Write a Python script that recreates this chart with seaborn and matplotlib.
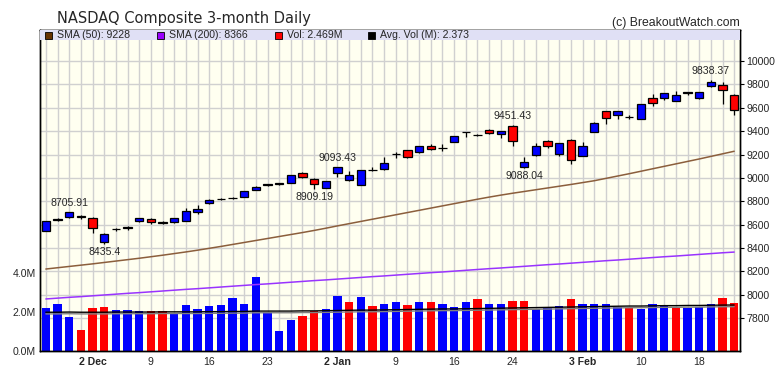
import numpy as np
import pandas as pd
import matplotlib
matplotlib.use('Agg')
import matplotlib.pyplot as plt
import matplotlib.patheffects as pe
import matplotlib.transforms as mtrans
from matplotlib.patches import Rectangle
import seaborn as sns

#---------------------------------------------------------
title = 'NASDAQ Composite 3-month Daily'
credit = '(c) BreakoutWatch.com'

dates = ['2019-11-25', '2019-11-26', '2019-11-27', '2019-11-29',
	'2019-12-02', '2019-12-03', '2019-12-04', '2019-12-05', '2019-12-06',
	'2019-12-09', '2019-12-10', '2019-12-11', '2019-12-12', '2019-12-13',
	'2019-12-16', '2019-12-17', '2019-12-18', '2019-12-19', '2019-12-20',
	'2019-12-23', '2019-12-24', '2019-12-26', '2019-12-27',
	'2019-12-30', '2019-12-31', '2020-01-02', '2020-01-03',
	'2020-01-06', '2020-01-07', '2020-01-08', '2020-01-09', '2020-01-10',
	'2020-01-13', '2020-01-14', '2020-01-15', '2020-01-16', '2020-01-17',
	'2020-01-21', '2020-01-22', '2020-01-23', '2020-01-24',
	'2020-01-27', '2020-01-28', '2020-01-29', '2020-01-30', '2020-01-31',
	'2020-02-03', '2020-02-04', '2020-02-05', '2020-02-06', '2020-02-07',
	'2020-02-10', '2020-02-11', '2020-02-12', '2020-02-13', '2020-02-14',
	'2020-02-18', '2020-02-19', '2020-02-20', '2020-02-21']

op = [8550, 8641, 8662, 8675, 8660, 8454, 8562, 8580, 8630, 8650,
	8620, 8625, 8635, 8705, 8782, 8821, 8826, 8838, 8900, 8942,
	8950, 8960, 9045, 8995, 8918, 9039, 8980, 8943, 9071, 9075,
	9205, 9235, 9220, 9270, 9256, 9310, 9390, 9368, 9410, 9378,
	9445, 9097, 9197, 9318, 9208, 9327, 9190, 9395, 9570, 9540,
	9525, 9500, 9685, 9685, 9660, 9730, 9680, 9790, 9795, 9712]
hi = [8634, 8655, 8705.91, 8681, 8663, 8527, 8576, 8585, 8660, 8658,
	8630, 8660, 8745, 8765, 8822, 8830, 8833, 8889, 8932, 8947,
	8956, 9023, 9052, 8996, 8975, 9093.43, 9063, 9072, 9092, 9176,
	9219, 9240, 9277, 9290, 9290, 9358, 9392, 9377, 9420, 9405,
	9451.43, 9180, 9295, 9325, 9300, 9330, 9304, 9475, 9572, 9575,
	9540, 9630, 9715, 9728, 9743, 9738, 9737, 9838.37, 9820, 9715]
lo = [8548, 8631, 8657, 8650, 8533, 8435.4, 8545, 8555, 8622, 8610,
	8604, 8618, 8630, 8695, 8776, 8810, 8818, 8836, 8895, 8934,
	8940, 8960, 8996, 8909.19, 8915, 9012, 8975, 8943, 9057, 9065,
	9170, 9167, 9210, 9240, 9230, 9305, 9350, 9360, 9378, 9338,
	9275, 9088.04, 9190, 9260, 9185, 9120, 9185, 9390, 9460, 9505,
	9505, 9500, 9615, 9670, 9655, 9705, 9678, 9780, 9630, 9536]
cl = [8632, 8648, 8705, 8665, 8568, 8521, 8567, 8571, 8657, 8622,
	8616, 8654, 8717, 8735, 8814, 8823, 8828, 8887, 8925, 8946,
	8953, 9022, 9007, 8946, 8973, 9092, 9021, 9071, 9069, 9129,
	9203, 9179, 9274, 9251, 9259, 9357, 9389, 9371, 9384, 9402,
	9315, 9139, 9270, 9275, 9299, 9151, 9273, 9468, 9509, 9572,
	9521, 9628, 9639, 9726, 9712, 9731, 9733, 9817, 9751, 9577]
vol = [2.24, 2.43, 1.76, 1.10, 2.24, 2.29, 2.14, 2.14, 2.08, 2.08,
	2.08, 1.93, 2.38, 2.19, 2.33, 2.38, 2.74, 2.43, 3.82, 2.03,
	1.03, 1.62, 1.81, 2.05, 2.19, 2.84, 2.55, 2.79, 2.33, 2.43,
	2.53, 2.38, 2.53, 2.53, 2.43, 2.27, 2.53, 2.69, 2.43, 2.43,
	2.58, 2.58, 2.19, 2.24, 2.33, 2.69, 2.43, 2.43, 2.43, 2.27,
	2.22, 2.17, 2.43, 2.33, 2.22, 2.22, 2.27, 2.43, 2.74, 2.469]
avg_vol = [2.00, 2.00, 2.01, 2.00, 2.00, 2.00, 2.01, 2.01, 2.01, 2.01,
	2.02, 2.02, 2.02, 2.02, 2.03, 2.03, 2.04, 2.04, 2.06, 2.06,
	2.06, 2.06, 2.07, 2.07, 2.08, 2.09, 2.10, 2.11, 2.11, 2.12,
	2.13, 2.14, 2.15, 2.16, 2.17, 2.17, 2.18, 2.19, 2.20, 2.21,
	2.22, 2.23, 2.24, 2.25, 2.26, 2.27, 2.28, 2.29, 2.30, 2.31,
	2.32, 2.32, 2.33, 2.34, 2.34, 2.35, 2.35, 2.36, 2.37, 2.373]
sma50 = [8221, 8232, 8243, 8254, 8265, 8277, 8289, 8301, 8313, 8326,
	8339, 8353, 8367, 8382, 8398, 8414, 8431, 8448, 8465, 8482,
	8499, 8516, 8533, 8551, 8570, 8590, 8609, 8628, 8647, 8666,
	8685, 8704, 8723, 8742, 8761, 8780, 8799, 8818, 8836, 8853,
	8869, 8884, 8899, 8914, 8929, 8944, 8960, 8976, 8996, 9016,
	9036, 9057, 9078, 9099, 9120, 9141, 9162, 9184, 9206, 9228]
sma200 = [7965, 7972, 7979, 7985, 7992, 7999, 8006, 8013, 8019, 8026,
	8033, 8040, 8047, 8053, 8060, 8067, 8074, 8081, 8088, 8094,
	8101, 8108, 8115, 8122, 8128, 8135, 8142, 8149, 8156, 8162,
	8169, 8176, 8183, 8190, 8196, 8203, 8210, 8217, 8224, 8230,
	8237, 8244, 8251, 8258, 8264, 8271, 8278, 8285, 8292, 8298,
	8305, 8312, 8319, 8326, 8332, 8339, 8346, 8353, 8360, 8366]

tick_dates = ['2019-12-02', '2019-12-09', '2019-12-16', '2019-12-23', '2020-01-02', '2020-01-09',
	'2020-01-16', '2020-01-24', '2020-02-03', '2020-02-10', '2020-02-18']
tick_lbls = ['2 Dec', '9', '16', '23', '2 Jan', '9', '16', '24', '3 Feb', '10', '18']
hi_marks = ['2019-11-27', '2020-01-02', '2020-01-24', '2020-02-19']
lo_marks = ['2019-12-03', '2019-12-30', '2020-01-27']
price_ticks = [7800, 8000, 8200, 8400, 8600, 8800, 9000, 9200, 9400, 9600, 9800, 10000]
vol_ticks = [0, 2, 4]

c_up, c_dn = '#0000ff', '#ff0000'
c_sma50, c_sma200 = '#8b5e3c', '#9933ff'
grid_c = '#d0d0d0'

#--------------------------------------------------------
df = pd.DataFrame(dict(date=dates, open=op, high=hi, low=lo, close=cl, vol=vol,
	avg_vol=avg_vol, sma50=sma50, sma200=sma200))
df['i'] = np.arange(len(df))
prev = df['close'].shift(1).fillna(df['open'])
df['dir'] = np.where(df['close'] >= prev, 'up', 'down')
df['body_lo'] = df[['open', 'close']].min(axis=1)
df['body_h'] = (df['close'] - df['open']).abs()
df['ccol'] = np.where(df['close'] >= df['open'], c_up, c_dn)
pos = {d: k for k, d in enumerate(dates)}

sns.set_style('white')
plt.rcParams['font.family'] = ['Liberation Sans', 'DejaVu Sans']

fig = plt.figure(figsize=(7.8, 3.76), dpi=100)
ax_v = fig.add_axes([40/780, 25/376, 700/780, 321/376])
ax_p = ax_v.twinx()
ax_v.set_facecolor('#fffff0')
ax_p.patch.set_visible(False)

#volume
sns.barplot(data=df, x='i', y='vol', hue='dir', palette={'up': c_up, 'down': c_dn},
	native_scale=True, dodge=False, width=0.7, saturation=1, legend=False,
	linewidth=0, ax=ax_v, zorder=2)
sns.lineplot(data=df, x='i', y='avg_vol', color='black', lw=1.0, ax=ax_v, zorder=3,
	path_effects=[pe.SimpleLineShadow(offset=(0, -1.2), shadow_color='#808080', alpha=1), pe.Normal()])

#grid (on volume axes so the bars cover it)
ax_v.vlines(df['i'], 0, 1, transform=ax_v.get_xaxis_transform(), color=grid_c, lw=1.0, zorder=1)
trans = mtrans.blended_transform_factory(ax_v.transAxes, ax_p.transData)
ax_v.hlines(price_ticks, 0, 1, transform=trans, color=grid_c, lw=1.0, zorder=1)

#price
sns.lineplot(data=df, x='i', y='sma50', color=c_sma50, lw=1.1, ax=ax_p, zorder=2)
sns.lineplot(data=df, x='i', y='sma200', color=c_sma200, lw=1.1, ax=ax_p, zorder=2)
ax_p.vlines(df['i'], df['low'], df['high'], color='black', lw=0.9, zorder=3)
ax_p.bar(df['i'], df['body_h'], bottom=df['body_lo'], width=0.74, color=df['ccol'],
	edgecolor='black', linewidth=0.9, zorder=4)

for d in hi_marks:
	k = pos[d]
	ax_p.annotate(f'{hi[k]:g}', (k, hi[k]), xytext=(0, 3), textcoords='offset points',
		ha='center', va='bottom', fontsize=7.6, zorder=6)
for d in lo_marks:
	k = pos[d]
	ax_p.annotate(f'{lo[k]:g}', (k, lo[k]), xytext=(0, -2.5), textcoords='offset points',
		ha='center', va='top', fontsize=7.6, zorder=6)

#axes
ax_v.set_xlim(-0.5, len(df) - 0.5)
ax_v.set_ylim(0, 16.56)
ax_p.set_ylim(7520, 10265)
ax_v.set_xticks([pos[d] for d in tick_dates])
ax_v.set_xticklabels(tick_lbls)
for t, lbl in zip(ax_v.get_xticklabels(), tick_lbls):
	if ' ' in lbl:
		t.set_fontweight('bold')
ax_v.set_yticks(vol_ticks)
ax_v.set_yticklabels([f'{v:.1f}M' for v in vol_ticks])
ax_p.set_yticks(price_ticks)
ax_p.set_yticklabels([str(p) for p in price_ticks])
ax_v.tick_params(axis='x', which='both', length=0, pad=4, labelsize=7.6)
ax_v.tick_params(axis='y', length=0, pad=3, labelsize=7.6, left=True)
ax_p.tick_params(axis='y', length=3, width=0.8, pad=1.5, labelsize=7.6, color='black', right=True)
ax_v.set_xlabel('')
ax_v.set_ylabel('')
ax_p.set_ylabel('')
for ax in (ax_v, ax_p):
	for s in ax.spines.values():
		s.set_color('black')
		s.set_linewidth(1)
		s.set_visible(True)

#legend band
ax_p.add_patch(Rectangle((0, 1 - 10/321), 1, 10/321, transform=ax_p.transAxes,
	facecolor='#e0e0f5', edgecolor='none', zorder=5))
leg = [(45, 57, '#663300', f'SMA (50): {sma50[-1]:.0f}'),
	(157, 169, '#9900ff', f'SMA (200): {sma200[-1]:.0f}'),
	(275, 287, c_dn, f'Vol: {vol[-1]:.3f}M'),
	(368, 380, 'black', f'Avg. Vol (M): {avg_vol[-1]:.3f}')]
for xs, xt, col, txt in leg:
	fig.add_artist(Rectangle((xs/780, 1 - 39/376), 7/780, 7/376, transform=fig.transFigure,
		facecolor=col, edgecolor='black', lw=0.6))
	fig.text(xt/780, 1 - 38.5/376, txt, fontsize=7.6, va='baseline', ha='left')

#titles
fig.text(57/780, 1 - 23.5/376, title, fontsize=10.5, family='DejaVu Sans', va='baseline', ha='left')
fig.text(740/780, 1 - 26/376, credit, fontsize=8.8, va='baseline', ha='right')

fig.savefig('out.png', dpi=100)
plt.close()
